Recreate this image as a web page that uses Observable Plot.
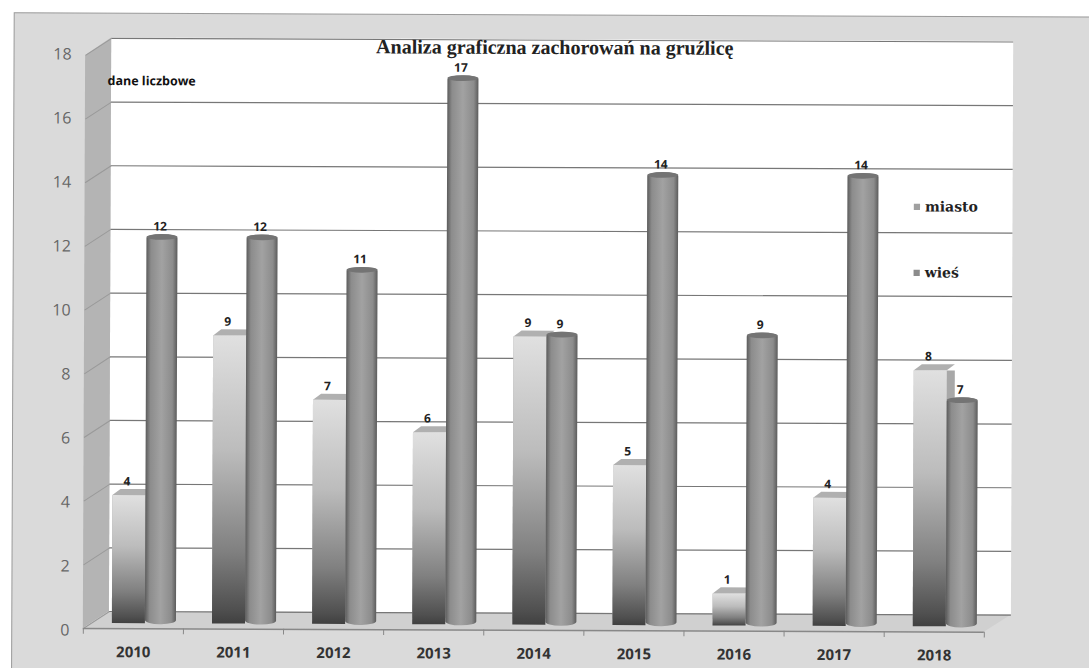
<!DOCTYPE html>
<html><head><meta charset="utf-8">
<script src="https://cdn.jsdelivr.net/npm/d3@7"></script>
<script src="https://cdn.jsdelivr.net/npm/@observablehq/plot@0.6"></script>
<style>
html,body{margin:0;padding:0;background:#fff;overflow:hidden}
svg{transform:rotate(.23deg);transform-origin:110px 334px}
.cap rect{transform-box:fill-box;transform:skewX(-53deg);transform-origin:0 100%}
</style></head><body><div id="c"></div>
<script>
const years=[2010,2011,2012,2013,2014,2015,2016,2017,2018];
const miasto=[4,9,7,6,9,5,1,4,8];
const wies=[12,12,11,17,9,14,9,14,7];
const yTicks=[0,2,4,6,8,10,12,14,16,18];
const title="Analiza graficzna zachorowań na gruźlicę";
const yLabel="dane liczbowe";
const m=years.map((year,i)=>({year,v:miasto[i]}));
const w=years.map((year,i)=>({year,v:wies[i]}));
const legend=[["miasto",13.12,"#a0a0a0"],["wieś",11.06,"#8c8c8c"]];
const defs=()=>{const s=d3.create("svg:defs");
 const g1=s.append("linearGradient").attr("id","gm").attr("x1",0).attr("y1",0).attr("x2",0).attr("y2",1);
 [[0,"#e0e0e0"],[.4,"#bcbcbc"],[.75,"#808080"],[.95,"#505050"],[1,"#404040"]].forEach(([o,c])=>g1.append("stop").attr("offset",o).attr("stop-color",c));
 const g2=s.append("linearGradient").attr("id","gw").attr("x1",0).attr("y1",0).attr("x2",1).attr("y2",0);
 [[0,"#5c5c5c"],[.15,"#8c8c8c"],[.5,"#a2a2a2"],[.85,"#8c8c8c"],[1,"#5c5c5c"]].forEach(([o,c])=>g2.append("stop").attr("offset",o).attr("stop-color",c));
 return s.node();};
const chart=Plot.plot({
 width:1089,height:668,margin:0,style:{background:"transparent",overflow:"visible"},
 x:{domain:[2009.5,2018.5],range:[84,985],axis:null},
 y:{domain:[0,18],range:[623,47],axis:null},
 marks:[
  defs,
  // outer panel
  Plot.rect([{}],{x1:()=>2008.79,x2:()=>2020,y1:()=>-3,y2:()=>19.06,fill:"#dadada",stroke:"#999"}),
  // back wall
  Plot.rect([{}],{x1:()=>2009.76,x2:()=>2018.77,y1:()=>0.375,y2:()=>18.3,fill:"#fff"}),
  // side wall
  Plot.areaY([[2009.5,17.75,-0.16],[2009.76,18.3,0.375]],{x:d=>d[0],y1:d=>d[1],y2:d=>d[2],fill:"#b4b4b4"}),
  // floor
  Plot.areaY([[2009.5,-0.16,-0.16],[2009.76,0.375,-0.16],[2018.5,0.375,-0.16],[2018.77,0.375,0.375]],{x:d=>d[0],y1:d=>d[1],y2:d=>d[2],fill:"#d0d0d0"}),
  // grid
  Plot.ruleY(yTicks,{x1:()=>2009.76,x2:()=>2018.77,y:d=>d*0.995+0.375,stroke:"#777",strokeWidth:1.2}),
  Plot.link(yTicks,{x1:()=>2009.5,x2:()=>2009.76,y1:d=>d-0.16+d/18*(-0.09),y2:d=>d*0.995+0.375,stroke:"#999",strokeWidth:1}),
  // front axis
  Plot.ruleY([0],{x1:()=>2009.5,x2:()=>2018.5,y:()=>-0.16,stroke:"#888",strokeWidth:1.5}),
  Plot.ruleX(d3.range(2009.5,2019,1),{x:d=>d,y1:()=>-0.16,y2:()=>-0.34,stroke:"#888"}),
  // miasto
  Plot.rect(m,{x1:d=>d.year-0.21,x2:d=>d.year+0.2,y1:()=>0.2,y2:d=>d.v,fill:"#a8a8a8"}),
  Plot.rect(m,{x1:d=>d.year-0.21,x2:d=>d.year+0.12,y1:"v",y2:d=>d.v+0.19,fill:"#b0b0b0",className:"cap"}),
  Plot.rect(m,{x1:d=>d.year-0.21,x2:d=>d.year+0.12,y1:()=>0,y2:"v",fill:"url(#gm)"}),
  // wies
  Plot.rect(w,{x1:d=>d.year+0.12,x2:d=>d.year+0.43,y1:()=>-0.03,y2:d=>d.v+0.16,fill:"url(#gw)",rx:15,ry:4}),
  Plot.rect(w,{x1:d=>d.year+0.12,x2:d=>d.year+0.43,y1:d=>d.v-0.02,y2:d=>d.v+0.16,fill:"#747474",rx:15,ry:3}),
  // labels
  Plot.text(m,{x:d=>d.year-0.07,y:"v",text:"v",dy:-14,fontFamily:"'Open Sans'",fontWeight:700,fontSize:12,fill:"#222"}),
  Plot.text(w,{x:d=>d.year+0.25,y:"v",text:"v",dy:-13,fontFamily:"'Open Sans'",fontWeight:700,fontSize:12,fill:"#222"}),
  Plot.text(yTicks,{x:()=>2009.5,y:d=>d,text:d=>d,dx:-14,dy:7,textAnchor:"end",fontFamily:"'Open Sans'",fontSize:16,fill:"#666"}),
  Plot.text(years,{x:d=>d,y:()=>-0.9,text:d=>String(d),fontFamily:"'Open Sans'",fontWeight:700,fontSize:15,fill:"#333"}),
  Plot.text([title],{x:()=>2014.186,y:()=>18.05,fontFamily:"'Liberation Serif'",fontWeight:700,fontSize:20,fill:"#222"}),
  Plot.text([yLabel],{x:()=>2009.72,y:()=>16.95,textAnchor:"start",fontFamily:"'Open Sans'",fontWeight:700,fontSize:12.5,fill:"#111"}),
  // legend
  Plot.dot(legend,{x:()=>2017.81,y:d=>d[1],symbol:"square",r:3.5,fill:d=>d[2]}),
  Plot.text(legend,{x:()=>2017.89,y:d=>d[1],text:d=>d[0],textAnchor:"start",fontFamily:"'DejaVu Serif'",fontWeight:700,fontSize:14,fill:"#222"})
 ]});
document.getElementById("c").append(chart);
</script></body></html>
